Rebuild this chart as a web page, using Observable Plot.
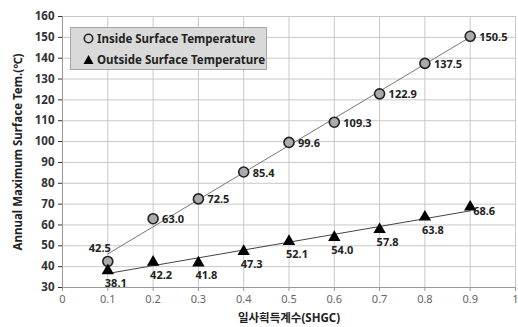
<!DOCTYPE html>
<html>
<head>
<meta charset="utf-8">
<script src="https://cdn.jsdelivr.net/npm/d3@7"></script>
<script src="https://cdn.jsdelivr.net/npm/@observablehq/plot@0.6"></script>
<style>
  html, body { margin: 0; padding: 0; background: #fff; }
  #wrap { position: relative; width: 518px; height: 327px; font-family: "Noto Sans", "Noto Sans CJK KR", sans-serif; }
  #legend { position: absolute; left: 70px; top: 27px; width: 197px; height: 43px; background: #d9d9d9; border: 1px solid #a6a6a6; box-sizing: border-box; font-size: 11.5px; font-weight: bold; color: #222; }
  #legend .row { position: absolute; left: 12px; display: flex; align-items: center; white-space: nowrap; }
  #legend svg { margin-right: 3px; }
</style>
</head>
<body>
<div id="wrap">
  <div id="chart"></div>
  <div id="legend">
    <div class="row" style="top:3px"><svg width="11" height="11"><circle cx="5.5" cy="5.5" r="4.2" fill="#d9d9d9" stroke="#222" stroke-width="1.6"/></svg>Inside Surface Temperature</div>
    <div class="row" style="top:24px"><svg width="11" height="11"><path d="M5.5 1 L10.5 10 L0.5 10 Z" fill="#000"/></svg>Outside Surface Temperature</div>
  </div>
</div>
<script>
const shgc = [0.1, 0.2, 0.3, 0.4, 0.5, 0.6, 0.7, 0.8, 0.9];
const inside = [42.5, 63.0, 72.5, 85.4, 99.6, 109.3, 122.9, 137.5, 150.5];
const outside = [38.1, 42.2, 41.8, 47.3, 52.1, 54.0, 57.8, 63.8, 68.6];
const xTicks = [0, 0.1, 0.2, 0.3, 0.4, 0.5, 0.6, 0.7, 0.8, 0.9, 1];
const yTicks = [30, 40, 50, 60, 70, 80, 90, 100, 110, 120, 130, 140, 150, 160];

const insideData = shgc.map((x, i) => ({x, y: inside[i]}));
const outsideData = shgc.map((x, i) => ({x, y: outside[i]}));
const firstIn = insideData.slice(0, 1);
const restIn = insideData.slice(1);
const lastOut = outsideData.slice(-1);
const restOut = outsideData.slice(0, -1);

const fmt = d => d.y.toFixed(1);

const chart = Plot.plot({
  width: 518,
  height: 327,
  marginLeft: 62,
  marginRight: 3,
  marginTop: 16,
  marginBottom: 40,
  style: { fontFamily: '"Noto Sans", "Noto Sans CJK KR", sans-serif', background: "#fff" },
  x: { domain: [0, 1], label: null },
  y: { domain: [30, 160], label: null },
  marks: [
    Plot.gridX(xTicks, { stroke: "#c8c8c8", strokeOpacity: 1 }),
    Plot.gridY(yTicks, { stroke: "#c8c8c8", strokeOpacity: 1 }),
    Plot.axisX({ ticks: xTicks, tickSize: 4, tickPadding: 4, fontSize: 11, color: "#666", stroke: "#999", label: null, tickFormat: d => String(d) }),
    Plot.axisY({ ticks: yTicks, tickSize: 4, tickPadding: 4, fontSize: 11.5, fontWeight: "bold", color: "#333", label: null }),
    Plot.ruleY([30], { stroke: "#999" }),
    Plot.ruleX([0], { stroke: "#999" }),
    Plot.linearRegressionY(insideData, { x: "x", y: "y", stroke: "#777", strokeWidth: 1, ci: 0 }),
    Plot.linearRegressionY(outsideData, { x: "x", y: "y", stroke: "#444", strokeWidth: 1, ci: 0 }),
    Plot.dot(insideData, { x: "x", y: "y", r: 5, fill: "#aaaaaa", stroke: "#222", strokeWidth: 1.6 }),
    Plot.dot(outsideData, { x: "x", y: "y", symbol: "triangle", r: 4.6, fill: "#000" }),
    Plot.text(restIn, { x: "x", y: "y", text: fmt, textAnchor: "start", dx: 9, dy: 1, fontSize: 11, fontWeight: "bold", fill: "#222" }),
    Plot.text(firstIn, { x: "x", y: "y", text: fmt, textAnchor: "end", dx: 3, dy: -13, fontSize: 11, fontWeight: "bold", fill: "#222" }),
    Plot.text(restOut, { x: "x", y: "y", text: fmt, textAnchor: "start", dx: -3, dy: 13, fontSize: 11, fontWeight: "bold", fill: "#222" }),
    Plot.text(lastOut, { x: "x", y: "y", text: fmt, textAnchor: "start", dx: 3, dy: 4, fontSize: 11, fontWeight: "bold", fill: "#222" }),
    Plot.text(["일사획득계수(SHGC)"], { frameAnchor: "bottom", dy: 34, fontSize: 11.5, fontWeight: "bold", fill: "#222" }),
    Plot.text(["Annual Maximum Surface Tem.(℃)"], { frameAnchor: "left", textAnchor: "middle", dx: -44, rotate: -90, fontSize: 11.5, fontWeight: "bold", fill: "#222" })
  ]
});
document.getElementById("chart").appendChild(chart);
</script>
</body>
</html>
